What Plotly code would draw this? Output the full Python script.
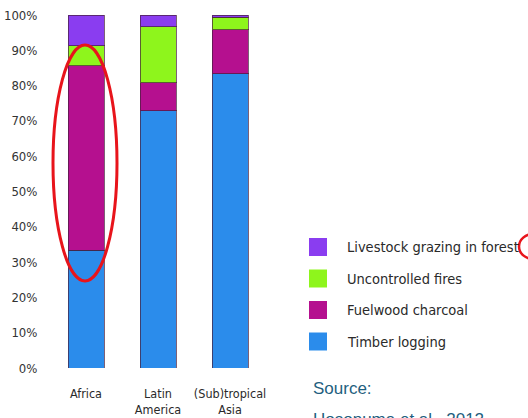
import plotly.graph_objects as go

# Drivers of forest degradation by region (share of total, %)
regions = ["Africa", "Latin<br>America", "(Sub)tropical<br>Asia"]
timber_logging = [33.4, 72.9, 83.3]
fuelwood_charcoal = [52.2, 7.9, 12.5]
uncontrolled_fires = [5.7, 15.9, 3.5]
livestock_grazing = [8.7, 3.3, 0.7]

series = [
    ("Timber logging", timber_logging, "#2b8ceb"),
    ("Fuelwood charcoal", fuelwood_charcoal, "#b5108f"),
    ("Uncontrolled fires", uncontrolled_fires, "#8ef51c"),
    ("Livestock grazing in forest", livestock_grazing, "#8a3df0"),
]
y_ticks = list(range(0, 101, 10))

FONT = "Liberation Sans Narrow, DejaVu Sans Condensed, Liberation Sans"

fig = go.Figure()
for name, vals, color in series:
    fig.add_trace(go.Bar(
        x=regions, y=vals, name=name,
        marker=dict(color=color, line=dict(color="rgba(70,30,60,0.7)", width=1)),
        showlegend=False,
    ))

# plot area spans px 50..266 horizontally and 15..368 vertically
L, R, T, B = 50, 262, 15, 50
W, H = 528 - L - R, 418 - T - B


def px(x):
    return (x - L) / W


def py(y):
    return (418 - B - y) / H


shapes = []
annotations = []

# square-swatch legend, top entry is the last series
for i, (name, vals, color) in enumerate(reversed(series)):
    cy = 247 + i * 31.5
    shapes.append(dict(type="rect", xref="paper", yref="paper",
                       x0=px(309), x1=px(327), y0=py(cy + 9), y1=py(cy - 9),
                       fillcolor=color, line=dict(width=0)))
    annotations.append(dict(xref="paper", yref="paper", x=px(345), y=py(cy),
                            text=name, showarrow=False, xanchor="left",
                            yanchor="middle",
                            font=dict(size=14.5, color="#2a2a2a", family=FONT)))

# red highlight around the Africa fuelwood share
shapes.append(dict(type="circle", xref="paper", yref="paper",
                   x0=px(53), x1=px(117), y0=py(281), y1=py(45),
                   line=dict(color="#e8141b", width=3)))
shapes.append(dict(type="circle", xref="paper", yref="paper",
                   x0=px(519), x1=px(548), y0=py(259), y1=py(234),
                   line=dict(color="#e8141b", width=2.5)))

annotations.append(dict(xref="paper", yref="paper", x=px(311), y=py(388),
                        text="Source:", showarrow=False, xanchor="left",
                        yanchor="middle",
                        font=dict(size=17, color="#1f5f80", family="Liberation Sans")))
annotations.append(dict(xref="paper", yref="paper", x=px(311), y=py(419),
                        text="Hosonuma et al., 2012", showarrow=False,
                        xanchor="left", yanchor="middle",
                        font=dict(size=17, color="#1f5f80", family="Liberation Sans")))

fig.update_layout(
    barmode="stack",
    bargap=0.5,
    width=528, height=418,
    margin=dict(l=L, r=R, t=T, b=B, autoexpand=False),
    paper_bgcolor="white", plot_bgcolor="white",
    shapes=shapes, annotations=annotations,
    font=dict(family=FONT, color="#333333"),
)
fig.update_yaxes(
    range=[0, 100], tickvals=y_ticks, ticktext=[f"{v}%" for v in y_ticks],
    showgrid=False, zeroline=False, showline=False,
    ticks="outside", ticklen=9, tickcolor="rgba(0,0,0,0)",
    tickfont=dict(size=13, color="#333333"),
)
fig.update_xaxes(
    showgrid=False, showline=False, zeroline=False,
    ticks="outside", ticklen=14, tickcolor="rgba(0,0,0,0)",
    tickfont=dict(size=12.5, color="#2a2a2a"),
)

fig.write_html("out.html")
